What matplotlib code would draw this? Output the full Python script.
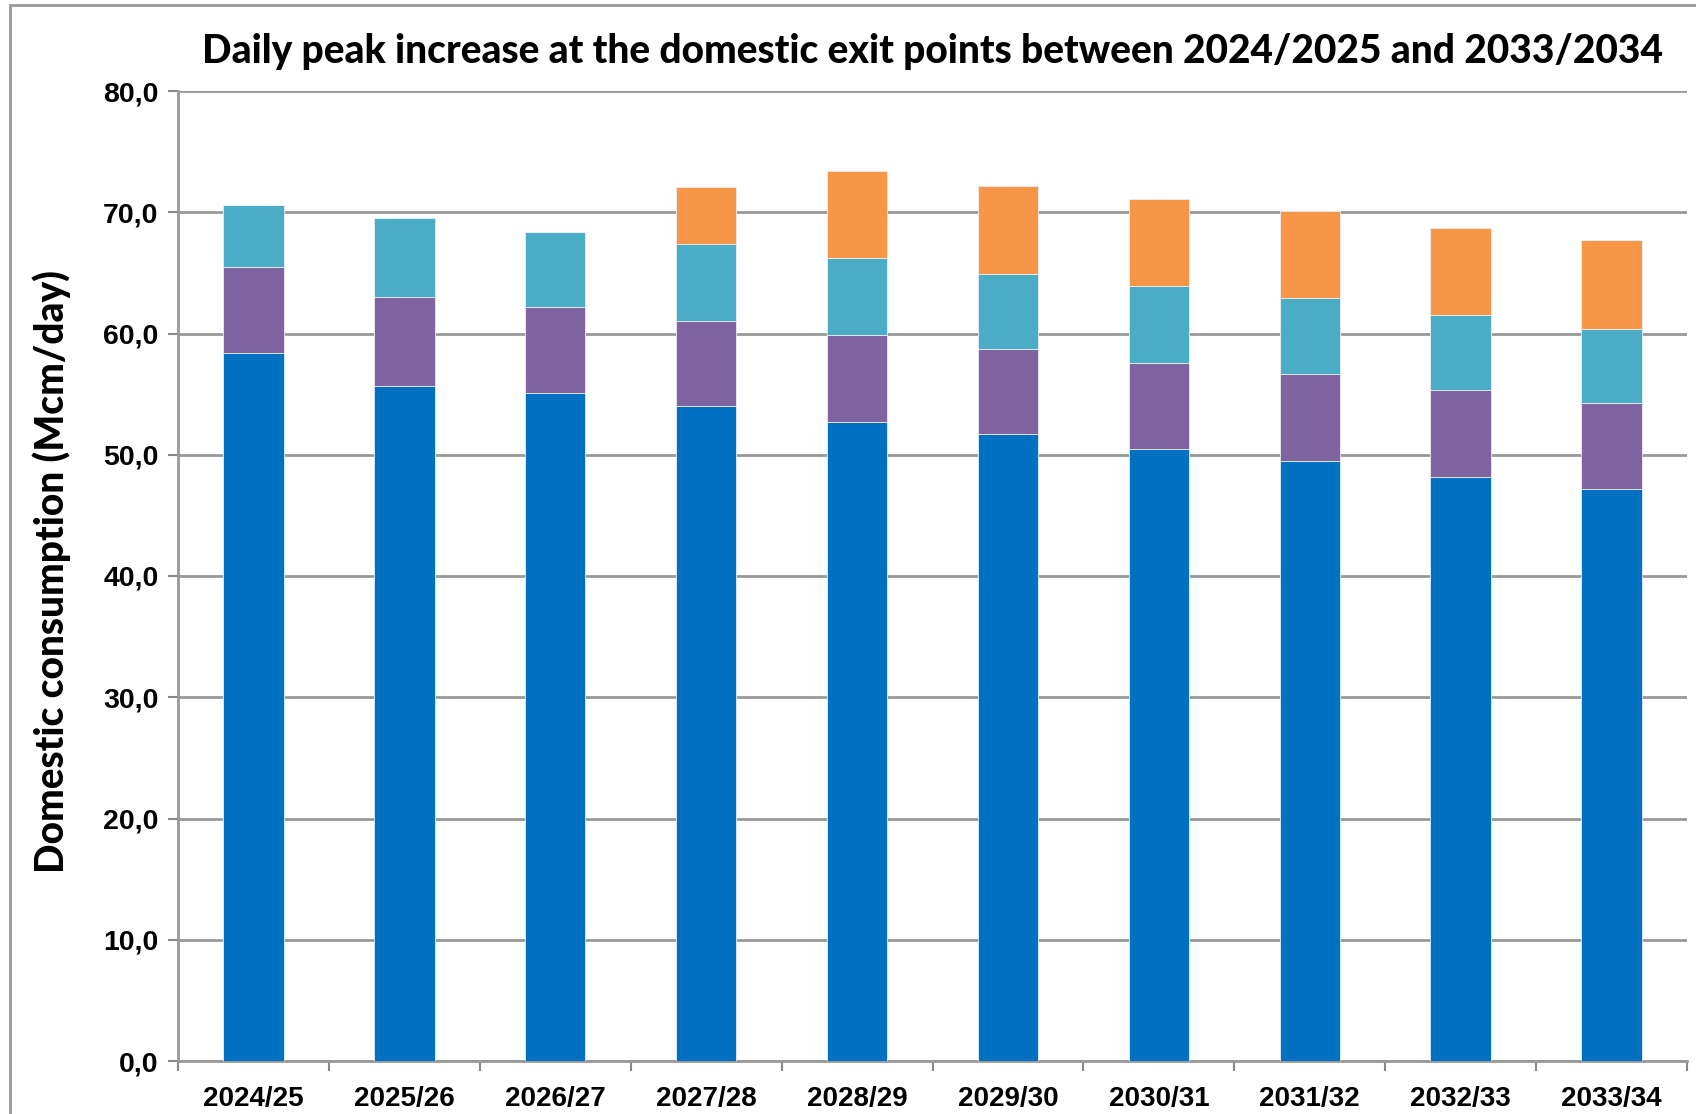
import matplotlib.pyplot as plt
from matplotlib.patches import Rectangle
import numpy as np

years = ['2024/25', '2025/26', '2026/27', '2027/28', '2028/29',
         '2029/30', '2030/31', '2031/32', '2032/33', '2033/34']

# cumulative tops
blue_top = [58.4, 55.7, 55.1, 54.0, 52.7, 51.7, 50.5, 49.5, 48.2, 47.2]
purple_top = [65.5, 63.0, 62.2, 61.0, 59.9, 58.7, 57.6, 56.7, 55.3, 54.3]
teal_top = [70.6, 69.5, 68.4, 67.4, 66.2, 64.9, 63.9, 62.9, 61.5, 60.4]
orange_top = [0, 0, 0, 72.1, 73.4, 72.2, 71.1, 70.1, 68.7, 67.7]

blue = np.array(blue_top)
purple = np.array(purple_top) - blue
teal = np.array(teal_top) - np.array(purple_top)
orange = np.where(np.array(orange_top) > 0, np.array(orange_top) - np.array(teal_top), 0)

fig = plt.figure(figsize=(16.96, 11.14), dpi=100)
ax = fig.add_axes([178/1696, 1-1061/1114, (1687-178)/1696, (1061-91)/1114])

x = np.arange(len(years))
w = 0.4
kw = dict(width=w, edgecolor='#e8eef5', linewidth=0.6, zorder=3)
ax.bar(x, blue, color='#0070C0', **kw)
ax.bar(x, purple, bottom=blue, color='#8064A2', **kw)
ax.bar(x, teal, bottom=blue + purple, color='#4BACC6', **kw)
ax.bar(x, orange, bottom=blue + purple + teal, color='#F79646', **kw)

ax.set_xlim(-0.5, len(years) - 0.5)
ax.set_ylim(0, 80)
ax.set_yticks(np.arange(0, 81, 10))
ax.set_yticklabels([f'{v:.1f}'.replace('.', ',') for v in range(0, 81, 10)],
                   fontfamily='Liberation Sans', fontweight='bold', fontsize=20.5)
ax.set_xticks(x)
ax.set_xticklabels(years, fontfamily='Liberation Sans', fontweight='bold', fontsize=20)
ax.set_xticks(np.arange(-0.5, len(years)), minor=True)
ax.tick_params(axis='x', which='major', length=0, pad=18)
ax.tick_params(axis='x', which='minor', length=7, width=1.5, color='#888888')
ax.tick_params(axis='y', length=7, width=1.5, color='#888888', pad=7)

ax.grid(axis='y', color='#999999', linewidth=2, zorder=0)
for s in ['top', 'right']:
    ax.spines[s].set_visible(False)
for s in ['left', 'bottom']:
    ax.spines[s].set_color('#999999')
    ax.spines[s].set_linewidth(2)

ax.set_ylabel('Domestic consumption (Mcm/day)', fontfamily='Lato',
              fontweight='black', fontsize=28)
ax.yaxis.set_label_coords(-0.071, 0.505)

fig.text(0.5497, 1 - 63/1114,
         'Daily peak increase at the domestic exit points between 2024/2025 and 2033/2034',
         ha='center', va='baseline', fontfamily='Lato', fontweight='black', fontsize=28)

fig.patches.append(Rectangle((10/1696, -0.1), 1.2, 1 - 5/1114 + 0.1,
                             transform=fig.transFigure, fill=False,
                             edgecolor='#999999', linewidth=2))

fig.savefig('out.png', dpi=100)
